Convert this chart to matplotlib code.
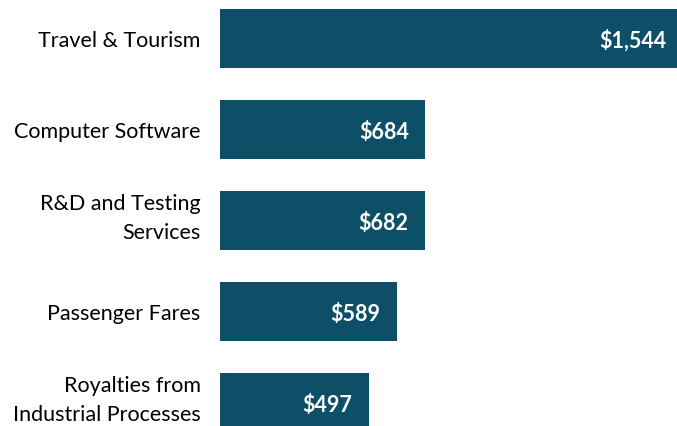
import matplotlib.pyplot as plt

# Data
categories = ["Travel & Tourism", "Computer Software", "R&D and Testing\nServices",
              "Passenger Fares", "Royalties from\nIndustrial Processes"]
values = [1544, 684, 682, 589, 497]

bar_color = '#0c4f66'
plt.rcParams['font.family'] = 'Lato'

fig = plt.figure(figsize=(6.77, 4.27), dpi=100)
ax = fig.add_axes([220 / 677, 0, 457 / 677, 1])

pos = range(len(values))
ax.barh(pos, values, height=0.65, color=bar_color)

for p, v, name in zip(pos, values, categories):
    ax.text(v - 55, p + 0.02, f"${v:,}", ha='right', va='center', color='white',
            fontsize=15.5, fontweight='bold')
    # category label left of the bar; two-line labels sit slightly higher
    dy = 2 if '\n' in name else -1.5
    ax.annotate(name, xy=(0, p), xycoords=('axes fraction', 'data'),
                xytext=(-14, dy), textcoords='offset points',
                ha='right', va='center', fontsize=15.5, linespacing=1.6,
                multialignment='right')

ax.set_xlim(0, 1523)
ax.set_ylim(4.26, -0.43)
ax.set_xticks([])
ax.set_yticks([])
for s in ax.spines.values():
    s.set_visible(False)

fig.savefig('out.png', dpi=100)
